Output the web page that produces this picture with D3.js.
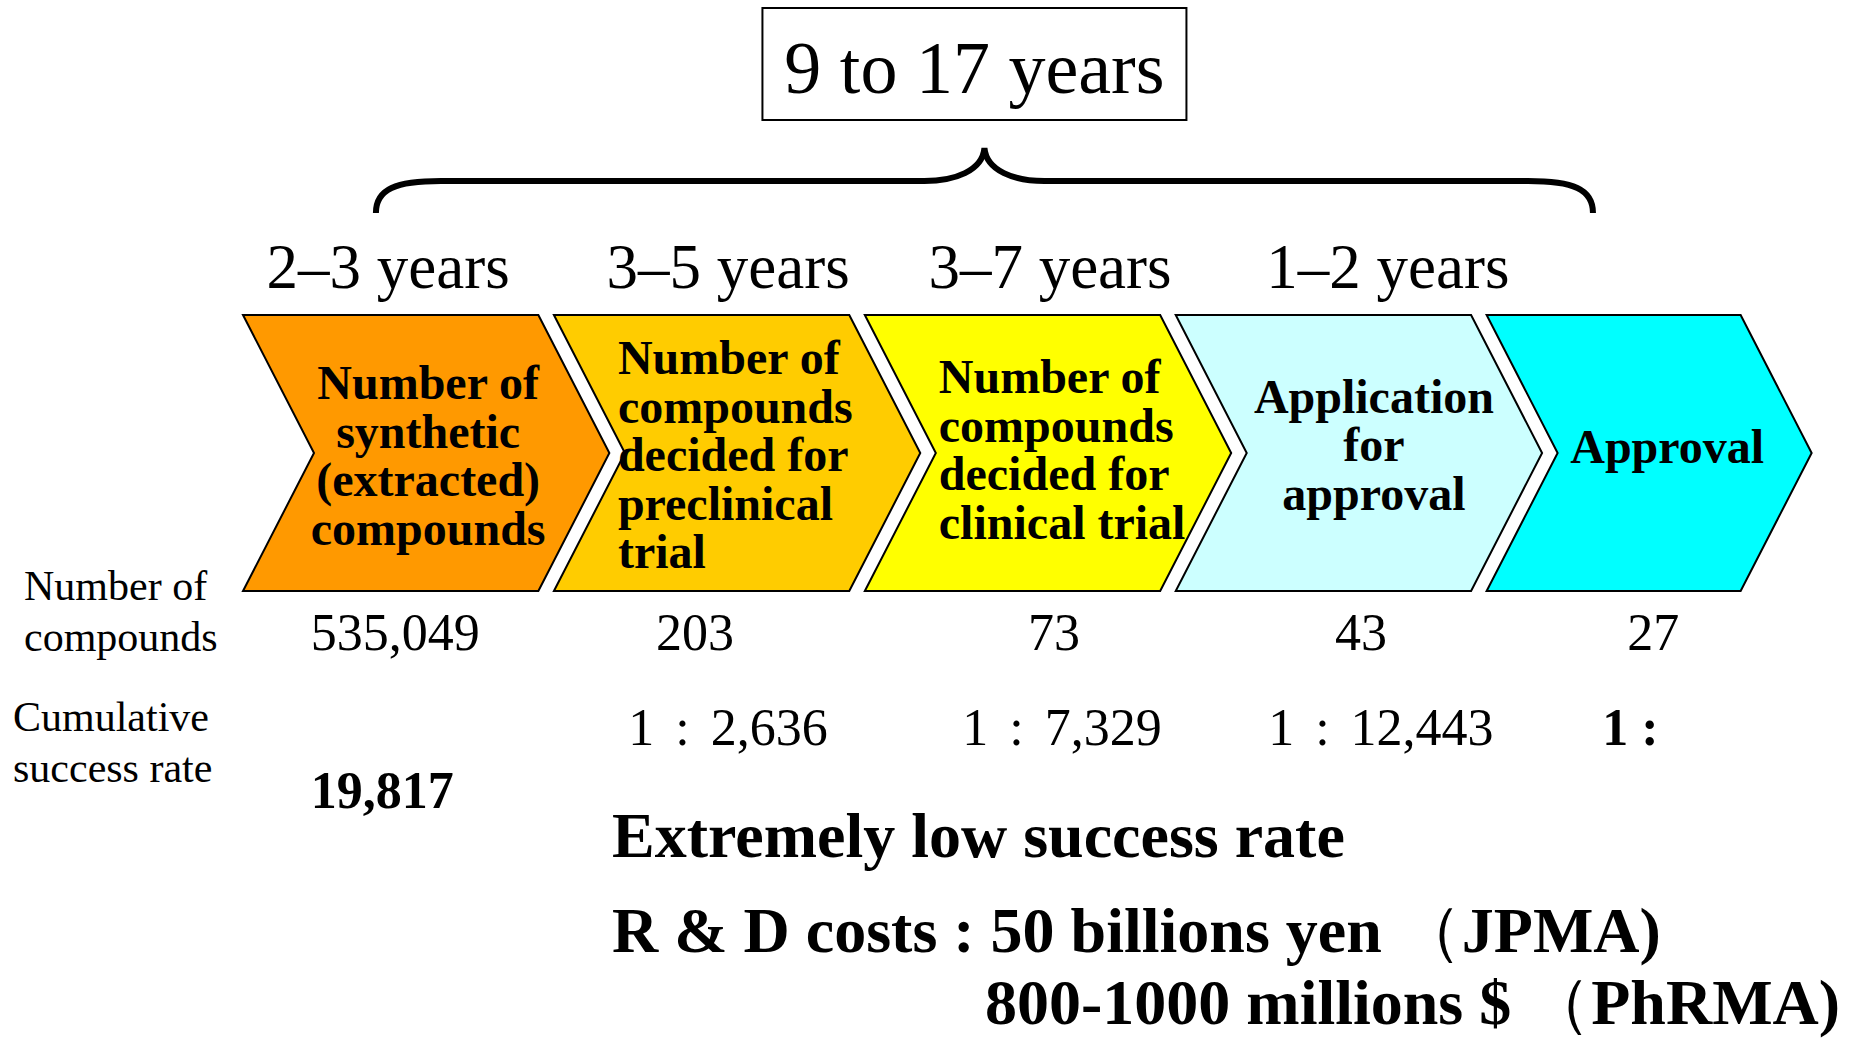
<!DOCTYPE html>
<html>
<head>
<meta charset="utf-8">
<script src="https://cdn.jsdelivr.net/npm/d3@7"></script>
<style>
  body { margin: 0; background: #fff; }
  svg { display: block; font-family: "Liberation Serif", "Times New Roman", serif; }
</style>
</head>
<body>
<svg class="flow" width="1862" height="1039"></svg>
<script>
// stages of the R&D pipeline
let stages = ["synthetic", "preclinical", "clinical", "application", "approval"];
let stageLines = [
  ["Number of", "synthetic", "(extracted)", "compounds"],
  ["Number of", "compounds", "decided for", "preclinical", "trial"],
  ["Number of", "compounds", "decided for", "clinical trial"],
  ["Application", "for", "approval"],
  ["Approval"]
];
let durations = ["2–3 years", "3–5 years", "3–7 years", "1–2 years"];
let totalDuration = "9 to 17 years";
let compoundCounts = [535049, 203, 73, 43, 27];
let successRatios = [null, 2636, 7329, 12443, 19817];
let rowLabels = [["Number of", "compounds"], ["Cumulative", "success rate"]];
let noteLines = ["Extremely low success rate",
                 "R & D costs : 50 billions yen ", "800-1000 millions $ "];
let noteSources = [null, "JPMA)", "PhRMA)"];

let svg = d3.select("body").select(".flow");
let fmt = d3.format(",");

// scales
let x = d3.scaleBand()
  .domain(stages)
  .range([243, 1782])
  .paddingInner(0.05);
let color = d3.scaleOrdinal()
  .domain(stages)
  .range(["#ff9900", "#ffcc00", "#ffff00", "#ccffff", "#00ffff"]);

let tip = 71;
let chevTop = 315, chevBottom = 591;
let chevMid = (chevTop + chevBottom) / 2;
let lineH = 48.5;
let lastStage = stages[stages.length - 1];

// the final stage is drawn a bit narrower
function bodyWidth(d) {
  return d === lastStage ? x.bandwidth() * 0.86 : x.bandwidth();
}
function center(d) {
  return x(d) + (bodyWidth(d) + tip) / 2;
}
function chevron(d) {
  let x0 = x(d), x1 = x0 + bodyWidth(d);
  return [[x0, chevTop], [x1, chevTop], [x1 + tip, chevMid],
          [x1, chevBottom], [x0, chevBottom], [x0 + tip, chevMid]];
}

// chevrons
svg.selectAll(".chevron")
  .data(stages)
  .join("polygon")
  .attr("class", "chevron")
  .attr("points", d => chevron(d).join(" "))
  .attr("fill", d => color(d))
  .attr("stroke", "#000")
  .attr("stroke-width", 2)
  .attr("stroke-linejoin", "miter");

// text inside chevrons: middle two left aligned, the others centred
let leftAligned = ["preclinical", "clinical"];
let textShift = [2, -7, 3, 15, 18];
let textDrop = [3, 2, -3, -8, -6];
stages.forEach(function(d, i) {
  let lines = stageLines[i];
  let firstBase = chevMid - (lines.length - 1) * lineH / 2 + 16 + textDrop[i];
  let left = leftAligned.includes(d);
  let t = svg.append("text")
    .attr("font-weight", "bold")
    .attr("font-size", 48)
    .attr("text-anchor", left ? "start" : "middle");
  t.selectAll("tspan")
    .data(lines)
    .join("tspan")
    .attr("x", left ? x(d) + tip + textShift[i] : center(d) + textShift[i])
    .attr("y", (l, j) => firstBase + j * lineH)
    .text(l => l);
});

// durations above each stage
let durShift = [-38, -9, 2, 29];
svg.selectAll(".duration")
  .data(durations)
  .join("text")
  .attr("class", "duration")
  .attr("x", (d, i) => center(stages[i]) + durShift[i])
  .attr("y", 288)
  .attr("text-anchor", "middle")
  .attr("font-size", 63)
  .text(d => d);

// curly brace over the durations
let braceL = x(stages[0]) + 0.45 * x.bandwidth();
let braceR = x(lastStage) + 0.36 * x.bandwidth();
let braceM = (braceL + braceR) / 2;
let bTop = 148, bBar = 181, bEnd = 213;
let brace = d3.path();
brace.moveTo(braceL, bEnd);
brace.bezierCurveTo(braceL, bBar + 8, braceL + 20, bBar, braceL + 65, bBar);
brace.lineTo(braceM - 60, bBar);
brace.bezierCurveTo(braceM - 30, bBar, braceM - 2, bBar - 10, braceM, bTop);
brace.bezierCurveTo(braceM + 2, bBar - 10, braceM + 30, bBar, braceM + 60, bBar);
brace.lineTo(braceR - 65, bBar);
brace.bezierCurveTo(braceR - 20, bBar, braceR, bBar + 8, braceR, bEnd);
svg.append("path")
  .attr("d", brace.toString())
  .attr("fill", "none")
  .attr("stroke", "#000")
  .attr("stroke-width", 6);

// total duration box
let boxW = 424;
svg.append("rect")
  .attr("x", braceM - 10 - boxW / 2)
  .attr("y", 8)
  .attr("width", boxW)
  .attr("height", 112)
  .attr("fill", "#fff")
  .attr("stroke", "#000")
  .attr("stroke-width", 2);
svg.append("text")
  .attr("x", braceM - 10)
  .attr("y", 93)
  .attr("text-anchor", "middle")
  .attr("font-size", 74)
  .text(totalDuration);

// row labels on the left
let rowStart = [[24, 600], [13, 731]];
rowLabels.forEach(function(lines, i) {
  svg.append("text")
    .attr("font-size", 42)
    .selectAll("tspan")
    .data(lines)
    .join("tspan")
    .attr("x", rowStart[i][0])
    .attr("y", (l, j) => rowStart[i][1] + j * 51)
    .text(l => l);
});

// number of compounds
let countShift = [-31, -42, 6, 2, 4];
let counts = svg.selectAll(".count")
  .data(compoundCounts)
  .join("text")
  .attr("class", "count")
  .attr("x", (d, i) => center(stages[i]) + countShift[i])
  .attr("y", 650)
  .attr("text-anchor", "middle")
  .attr("font-size", 52)
  .text(d => fmt(d));

// cumulative success rate
let last = successRatios.length - 1;
let ratioShift = [-9, 14, 22];
svg.selectAll(".ratio")
  .data(successRatios.slice(1, last))
  .join("text")
  .attr("class", "ratio")
  .attr("x", (d, i) => center(stages[i + 1]) + ratioShift[i])
  .attr("y", 745)
  .attr("text-anchor", "middle")
  .attr("font-size", 52)
  .attr("word-spacing", 8)
  .text(d => "1 : " + fmt(d));

// the last ratio wraps back to the first column, in bold
svg.append("text")
  .attr("x", center(lastStage) - 47)
  .attr("y", 745)
  .attr("font-size", 52)
  .attr("font-weight", "bold")
  .text("1 :");
let firstCount = counts.nodes()[0];
let firstLeft = +firstCount.getAttribute("x") - firstCount.getComputedTextLength() / 2;
svg.append("text")
  .attr("x", firstLeft)
  .attr("y", 808)
  .attr("font-size", 52)
  .attr("font-weight", "bold")
  .text(fmt(successRatios[last]));

// notes at the bottom
let noteX = [612, 612, 985];
let noteY = [857, 952, 1024];
noteLines.forEach(function(line, i) {
  let t = svg.append("text")
    .attr("x", noteX[i])
    .attr("y", noteY[i])
    .attr("font-size", 64)
    .attr("font-weight", "bold")
    .text(line);
  if (noteSources[i]) {
    t.append("tspan").attr("font-weight", "normal").text("（");
    t.append("tspan").text(noteSources[i]);
  }
});
</script>
</body>
</html>
